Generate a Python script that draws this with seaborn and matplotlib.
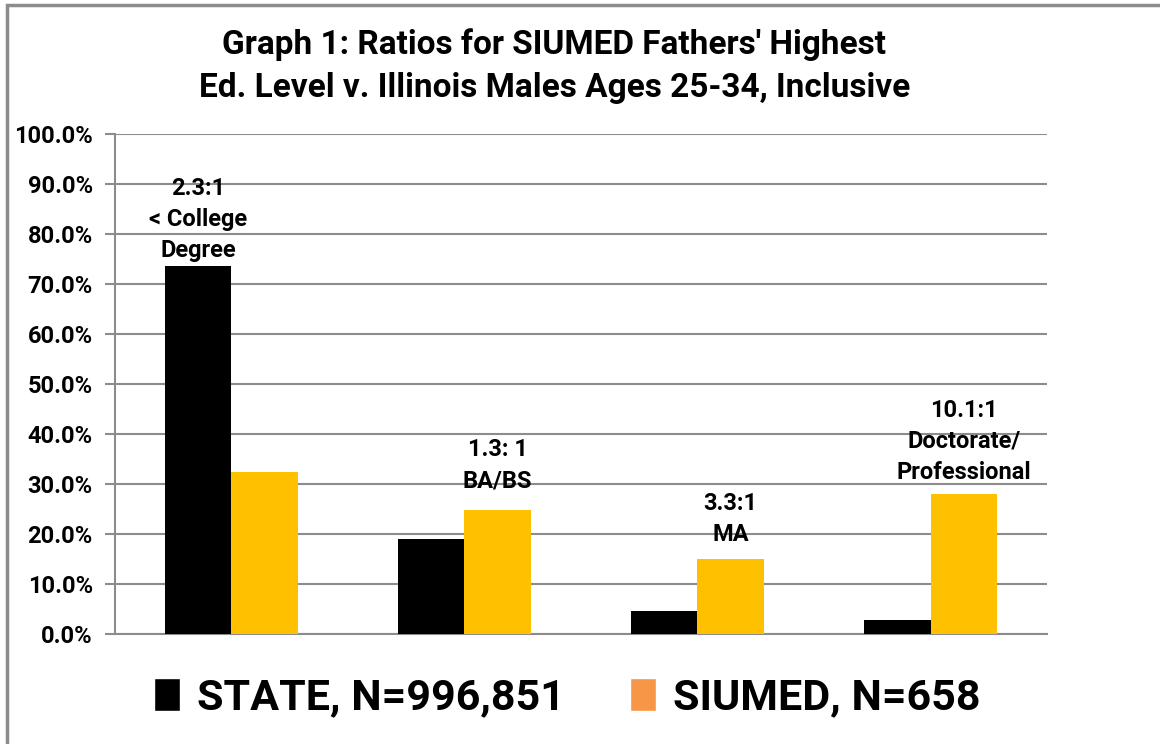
import pandas as pd
import seaborn as sns
import matplotlib.pyplot as plt
from matplotlib.patches import Patch, Rectangle
from matplotlib.ticker import PercentFormatter

# values (percent of group)
levels = ["< College Degree", "BA/BS", "MA", "Doctorate/Professional"]
state = [73.6, 19.0, 4.6, 2.8]
siumed = [32.4, 24.8, 15.0, 28.0]
series_names = ["STATE, N=996,851", "SIUMED, N=658"]
ratio_labels = ["2.3:1\n< College\nDegree", "1.3: 1\nBA/BS", "3.3:1\nMA", "10.1:1\nDoctorate/\nProfessional"]

df = pd.DataFrame({
    "level": levels * 2,
    "pct": state + siumed,
    "group": [series_names[0]] * 4 + [series_names[1]] * 4,
})

sns.set_style("white")
plt.rcParams["font.family"] = ["Roboto", "DejaVu Sans"]
plt.rcParams["font.weight"] = "bold"
plt.rcParams["text.color"] = "black"

fig = plt.figure(figsize=(11.6, 7.44), dpi=100)
ax = fig.add_axes([0.0991, 0.1478, 0.8035, 0.6721])

bar_colors = ["#000000", "#FFC000"]
sns.barplot(data=df, x="level", y="pct", hue="group", palette=bar_colors,
            width=0.57, saturation=1, ax=ax, legend=False, zorder=3,
            edgecolor="none", linewidth=0)

ax.set_ylim(0, 100)
ax.set_xlim(-0.5, 3.5)
ax.set_yticks(range(0, 101, 10))
ax.yaxis.set_major_formatter(PercentFormatter(decimals=1))
ax.set_xticks([])
ax.set_xlabel("")
ax.set_ylabel("")
ax.grid(axis="y", color="#8c8c8c", linewidth=1.5, zorder=0)
ax.set_axisbelow(True)
for s in ["top", "right"]:
    ax.spines[s].set_visible(False)
for s in ["left", "bottom"]:
    ax.spines[s].set_color("#8c8c8c")
    ax.spines[s].set_linewidth(1.5)
ax.tick_params(axis="y", which="major", direction="out", length=7, width=1.5,
               color="#8c8c8c", labelsize=17, pad=9, left=True, labelcolor="black")
for t in ax.get_yticklabels():
    t.set_fontweight("bold")

# ratio labels sit above the taller bar of each group
label_pad = [0.8, 3.6, 2.6, 2.0]
for i, txt in enumerate(ratio_labels):
    hi = 0 if state[i] > siumed[i] else 1
    bar = ax.containers[hi][i]
    ax.text(bar.get_x() + bar.get_width() / 2, bar.get_height() + label_pad[i], txt,
            ha="center", va="bottom", fontsize=17, fontweight="bold",
            linespacing=1.45, zorder=4, color="black")

fig.text(0.478, 0.911, "Graph 1: Ratios for SIUMED Fathers' Highest\nEd. Level v. Illinois Males Ages 25-34, Inclusive",
         ha="center", va="center", fontsize=24, fontweight="bold", linespacing=1.42, color="black")

handles = [Patch(facecolor="#000000"), Patch(facecolor="#F79646")]
fig.legend(handles, series_names, loc="center", bbox_to_anchor=(0.489, 0.062), ncol=2,
           frameon=False, prop={"weight": "bold", "size": 31}, labelcolor="black",
           handlelength=0.6, handleheight=0.8, handletextpad=0.4, columnspacing=1.5)

fig.patches.append(Rectangle((0.006, -0.01), 1.2, 1.003, transform=fig.transFigure,
                             fill=False, edgecolor="#8c8c8c", linewidth=2.5))

fig.savefig("out.png", dpi=100)
